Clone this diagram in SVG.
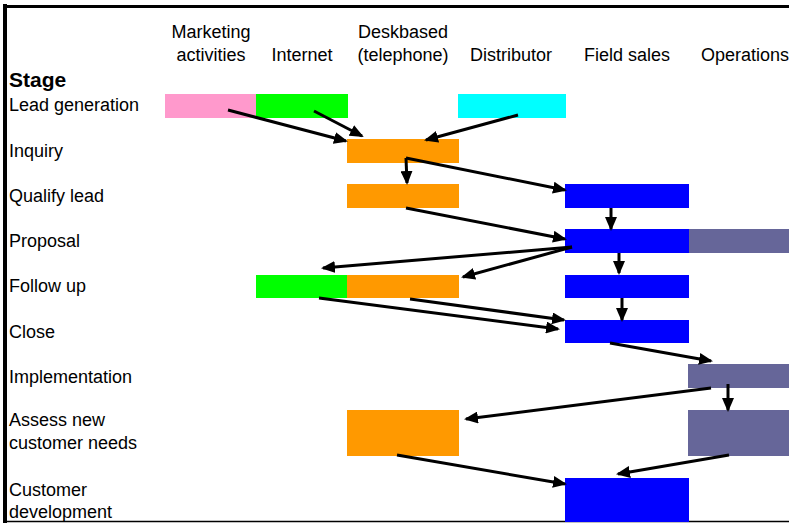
<svg xmlns="http://www.w3.org/2000/svg" width="789" height="523" viewBox="0 0 789 523">
  <style>
    text { font-family: "Liberation Sans", Arial, sans-serif; font-size: 18px; fill: #000; }
    .hdr { text-anchor: middle; }
    .stage { font-weight: bold; font-size: 21px; }
    .pink { fill: #FF99CC; }
    .green { fill: #00FF00; }
    .cyan { fill: #00FFFF; }
    .orange { fill: #FF9900; }
    .blue { fill: #0000FF; }
    .gray { fill: #666699; }
    .conn line { stroke: #000; stroke-width: 3; marker-end: url(#arrow); }
  </style>
  <defs>
    <marker id="arrow" markerUnits="userSpaceOnUse" markerWidth="14" markerHeight="12" refX="12" refY="6" orient="auto">
      <path d="M0,0 L14,6 L0,12 Z" fill="#000"/>
    </marker>
  </defs>

  <rect width="789" height="523" fill="#fff"/>

  <!-- frame -->
  <g id="frame" stroke="#000" fill="none">
    <line x1="5" y1="4" x2="5" y2="523" stroke-width="4"/>
    <line x1="3" y1="6.5" x2="789" y2="6.5" stroke-width="3"/>
    <line x1="3" y1="521.5" x2="789" y2="521.5" stroke-width="1.5"/>
  </g>

  <!-- channel headings -->
  <g id="headers">
    <text class="hdr" x="211" y="38">Marketing</text>
    <text class="hdr" x="211" y="61">activities</text>
    <text class="hdr" x="302" y="61">Internet</text>
    <text class="hdr" x="403" y="38">Deskbased</text>
    <text class="hdr" x="403" y="61">(telephone)</text>
    <text class="hdr" x="511" y="61">Distributor</text>
    <text class="hdr" x="627" y="61">Field sales</text>
    <text class="hdr" x="745" y="61">Operations</text>
  </g>

  <!-- stage labels -->
  <g id="stages">
    <text class="stage" x="9" y="87">Stage</text>
    <text x="9" y="111">Lead generation</text>
    <text x="9" y="157">Inquiry</text>
    <text x="9" y="202">Qualify lead</text>
    <text x="9" y="247">Proposal</text>
    <text x="9" y="292">Follow up</text>
    <text x="9" y="338">Close</text>
    <text x="9" y="383">Implementation</text>
    <text x="9" y="426">Assess new</text>
    <text x="9" y="449">customer needs</text>
    <text x="9" y="496">Customer</text>
    <text x="9" y="518">development</text>
  </g>

  <!-- activity blocks -->
  <g id="lead-marketing"><rect class="pink" x="165" y="94" width="91" height="24"/></g>
  <g id="lead-internet"><rect class="green" x="256" y="94" width="92" height="24"/></g>
  <g id="lead-distributor"><rect class="cyan" x="458" y="94" width="108" height="24"/></g>
  <g id="inquiry-desk"><rect class="orange" x="347" y="139" width="112" height="24"/></g>
  <g id="qualify-desk"><rect class="orange" x="347" y="184" width="112" height="24"/></g>
  <g id="qualify-field"><rect class="blue" x="565" y="184" width="124" height="24"/></g>
  <g id="proposal-field"><rect class="blue" x="565" y="229" width="124" height="24"/></g>
  <g id="proposal-ops"><rect class="gray" x="689" y="229" width="100" height="24"/></g>
  <g id="followup-internet"><rect class="green" x="256" y="275" width="91" height="23"/></g>
  <g id="followup-desk"><rect class="orange" x="347" y="275" width="112" height="23"/></g>
  <g id="followup-field"><rect class="blue" x="565" y="275" width="124" height="23"/></g>
  <g id="close-field"><rect class="blue" x="565" y="320" width="124" height="23"/></g>
  <g id="implementation-ops"><rect class="gray" x="688" y="364" width="101" height="24"/></g>
  <g id="assess-desk"><rect class="orange" x="347" y="410" width="112" height="46"/></g>
  <g id="assess-ops"><rect class="gray" x="688" y="410" width="101" height="46"/></g>
  <g id="development-field"><rect class="blue" x="565" y="478" width="124" height="44"/></g>

  <!-- flows between blocks -->
  <g id="connectors" class="conn">
    <line x1="228" y1="110" x2="346" y2="141"/>
    <line x1="314" y1="111" x2="362" y2="136"/>
    <line x1="518" y1="115" x2="426" y2="140"/>
    <line x1="406" y1="158" x2="407" y2="183"/>
    <line x1="406" y1="158" x2="565" y2="190"/>
    <line x1="406" y1="208" x2="565" y2="239"/>
    <line x1="611" y1="208" x2="611" y2="229"/>
    <line x1="572" y1="247" x2="323" y2="268"/>
    <line x1="572" y1="247" x2="463" y2="277"/>
    <line x1="619" y1="253" x2="619" y2="273"/>
    <line x1="622" y1="298" x2="622" y2="320"/>
    <line x1="319" y1="298" x2="558" y2="329"/>
    <line x1="410" y1="299" x2="564" y2="320"/>
    <line x1="610" y1="343" x2="711" y2="361"/>
    <line x1="711" y1="388" x2="466" y2="419"/>
    <line x1="728" y1="384" x2="728" y2="410"/>
    <line x1="397" y1="455" x2="565" y2="484"/>
    <line x1="729" y1="455" x2="618" y2="474"/>
  </g>
</svg>
